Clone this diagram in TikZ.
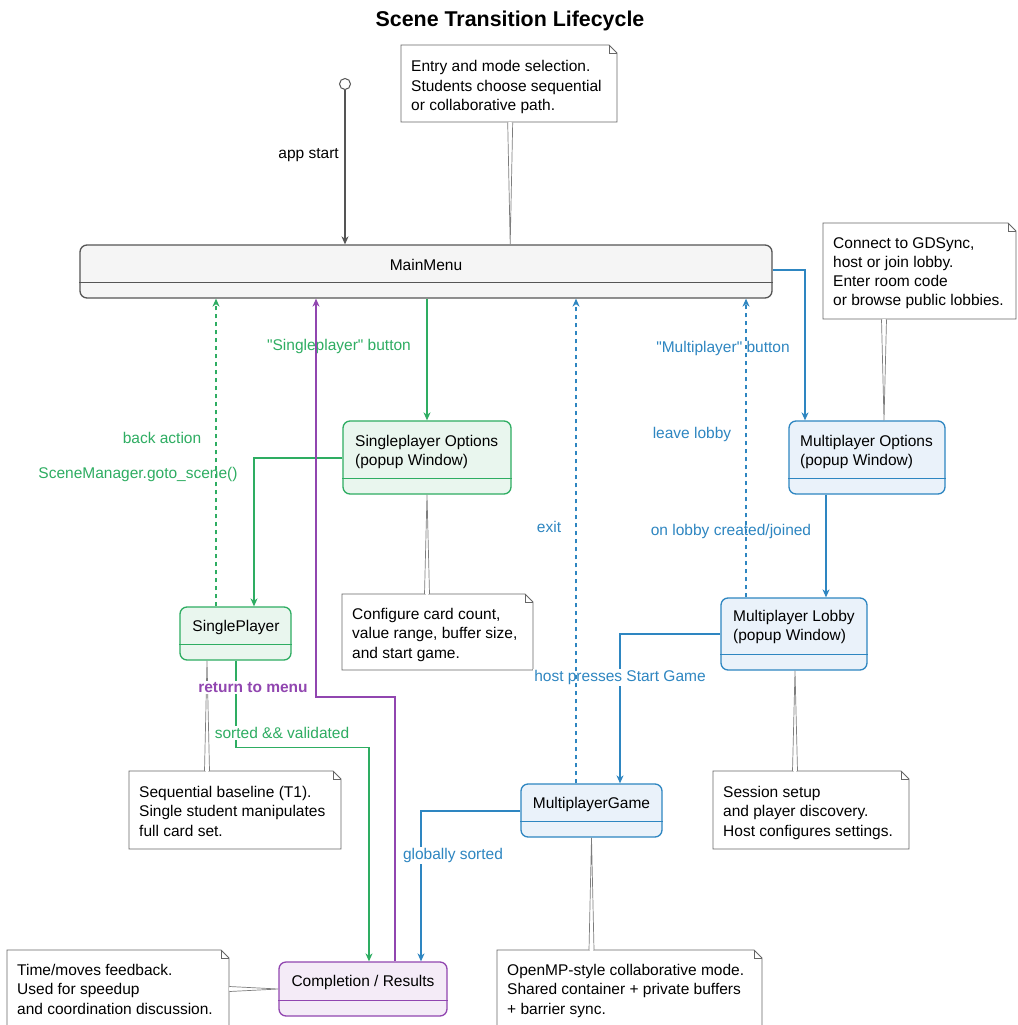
\documentclass[tikz,border=0pt]{standalone}
\usepackage{fontspec}
\setmainfont{Liberation Sans}[Ligatures=TeXOff]
\usetikzlibrary{arrows.meta,calc}

\definecolor{gline}{HTML}{2EAD62}
\definecolor{gfill}{HTML}{E9F6EE}
\definecolor{bline}{HTML}{2E86C1}
\definecolor{bfill}{HTML}{EAF2FA}
\definecolor{pline}{HTML}{9146B0}
\definecolor{pfill}{HTML}{F4EBF7}
\definecolor{mline}{HTML}{555555}
\definecolor{mfill}{HTML}{F5F5F5}
\definecolor{nline}{HTML}{666666}

\tikzset{
  basefont/.style={font=\fontsize{15.5}{19.2}\selectfont},
  stbox/.style={draw, rounded corners=7pt, line width=1.3pt, inner sep=0pt},
  mainbox/.style={stbox, draw=mline, fill=mfill},
  gbox/.style={stbox, draw=gline, fill=gfill},
  bbox/.style={stbox, draw=bline, fill=bfill},
  pbox/.style={stbox, draw=pline, fill=pfill},
  txt/.style={inner sep=0pt, align=left, text=black},
  noteline/.style={draw=nline, line width=0.9pt},
  linkline/.style={draw=nline!85, line width=0.7pt},
  tip/.style={-{Stealth[length=8pt,width=7pt,inset=2.5pt]}},
  edgeline/.style={line width=1.1pt},
  gedge/.style={edgeline, draw=gline, tip},
  bedge/.style={edgeline, draw=bline, tip},
  pedge/.style={edgeline, draw=pline, tip},
  backdash/.style={dash pattern=on 4pt off 4pt},
  glabel/.style={inner sep=1.5pt, text=gline},
  blabel/.style={inner sep=1.5pt, text=bline},
  plabel/.style={inner sep=1.5pt, text=pline, font=\fontsize{15.5}{19.2}\selectfont\bfseries},
}

% note box: name, x1, y1, x2, y2, first baseline, text
\newcommand\notebox[7]{%
  \node[minimum width={#4-#2}, minimum height={#5-#3}, inner sep=0pt, anchor=north west] (#1) at (#2,#3) {};
  \draw[noteline, fill=white] (#2,#3) -- (#4-8,#3) -- (#4,#3+8) -- (#4,#5) -- (#2,#5) -- cycle;
  \draw[noteline] (#4-8,#3) -- (#4-8,#3+8) -- (#4,#3+8);
  \node[txt, anchor=north west] (#1-t) at (#2+10,#6-11.3) {#7};
}
% wedge linking a note to a state: base midpoint, tip, half-width vector
\newcommand\notelink[3]{%
  \fill[white] ($#1+#3$) -- #2 -- ($#1-#3$) -- cycle;
  \draw[white, line width=1.6pt] ($#1+0.5*#3$) -- ($#1-0.5*#3$);
  \draw[linkline] ($#1+#3$) -- #2 -- ($#1-#3$);
}

\begin{document}
\begin{tikzpicture}[x=1pt, y=-1pt, basefont]
\useasboundingbox (0,0) rectangle (1017,1025);
\fill[white] (0,0) rectangle (1017,1025);

% title
\node[inner sep=0pt, anchor=base, font=\fontsize{21.4}{24}\selectfont\bfseries] (title) at (510,26.5) {Scene Transition Lifecycle};

% initial pseudo-state
\node[circle, draw=mline, fill=white, line width=1pt, minimum size=11pt, inner sep=0pt] (start) at (345,84) {};

% states
\node[mainbox, minimum width=692, minimum height=53] (main) at (426,271.5) {};
\draw[draw=mline, line width=1.3pt] ($(main.south west)+(0,-16)$) -- ($(main.south east)+(0,-16)$);
\node[txt, anchor=base] (main-t) at (426,270.5) {MainMenu};

\node[gbox, minimum width=168, minimum height=73] (spopt) at (427,457.5) {};
\draw[draw=gline, line width=1.3pt] ($(spopt.south west)+(0,-16)$) -- ($(spopt.south east)+(0,-16)$);
\node[txt, anchor=north west] (spopt-t) at (355,435.2) {Singleplayer Options\\(popup Window)};

\node[gbox, minimum width=111, minimum height=53] (splay) at (235.5,633.5) {};
\draw[draw=gline, line width=1.3pt] ($(splay.south west)+(0,-16)$) -- ($(splay.south east)+(0,-16)$);
\node[txt, anchor=base] (splay-t) at (236,631.5) {SinglePlayer};

\node[bbox, minimum width=156, minimum height=73] (mpopt) at (867,457.5) {};
\draw[draw=bline, line width=1.3pt] ($(mpopt.south west)+(0,-16)$) -- ($(mpopt.south east)+(0,-16)$);
\node[txt, anchor=north west] (mpopt-t) at (800,435.2) {Multiplayer Options\\(popup Window)};

\node[bbox, minimum width=146, minimum height=72] (lobby) at (794,634) {};
\draw[draw=bline, line width=1.3pt] ($(lobby.south west)+(0,-16)$) -- ($(lobby.south east)+(0,-16)$);
\node[txt, anchor=north west] (lobby-t) at (733,610.2) {Multiplayer Lobby\\(popup Window)};

\node[bbox, minimum width=141, minimum height=53] (mpgame) at (591.5,810.5) {};
\draw[draw=bline, line width=1.3pt] ($(mpgame.south west)+(0,-16)$) -- ($(mpgame.south east)+(0,-16)$);
\node[txt, anchor=base] (mpgame-t) at (591.5,808.5) {MultiplayerGame};

\node[pbox, minimum width=168, minimum height=54] (result) at (363,989) {};
\draw[draw=pline, line width=1.3pt] ($(result.south west)+(0,-16)$) -- ($(result.south east)+(0,-16)$);
\node[txt, anchor=base] (result-t) at (363,986.5) {Completion / Results};

% notes
\notebox{n1}{401}{45}{617}{122}{71.7}{Entry and mode selection.\\Students choose sequential\\or collaborative path.}
\notebox{n2}{823}{223}{1016}{319}{248.5}{Connect to GDSync,\\host or join lobby.\\Enter room code\\or browse public lobbies.}
\notebox{n3}{342}{594}{533}{670}{619.5}{Configure card count,\\value range, buffer size,\\and start game.}
\notebox{n4}{129}{771}{341}{849}{797.5}{Sequential baseline (T1).\\Single student manipulates\\full card set.}
\notebox{n5}{713}{771}{909}{849}{797.5}{Session setup\\and player discovery.\\Host configures settings.}
\notebox{n6}{497}{950}{762}{1032}{975.5}{OpenMP-style collaborative mode.\\Shared container + private buffers\\+ barrier sync.}
\notebox{n7}{7}{950}{229}{1032}{975.5}{Time/moves feedback.\\Used for speedup\\and coordination discussion.}

% note links
\coordinate (w1) at ($(n1.south)+(1,0)$);
\notelink{(w1)}{(w1 |- main.north)}{(2.5,0)}
\coordinate (w2) at ($(mpopt.north)+(17,0)$);
\notelink{(w2 |- n2.south)}{(w2)}{(2.5,0)}
\notelink{(spopt.south |- n3.north)}{(spopt.south)}{(2.5,0)}
\coordinate (w4) at ($(splay.south)+(-28.5,0)$);
\notelink{(w4 |- n4.north)}{(w4)}{(2.5,0)}
\coordinate (w5) at ($(lobby.south)+(1,0)$);
\notelink{(w5 |- n5.north)}{(w5)}{(2.5,0)}
\notelink{(mpgame.south |- n6.north)}{(mpgame.south)}{(2.5,0)}
\notelink{(n7.east |- result.west)}{(result.west)}{(0,2.5)}

% transitions
\draw[edgeline, draw=mline, tip] (start) -- (start |- main.north);
\node[inner sep=0pt, anchor=base east] (l-start) at (339,158.5) {app start};

\draw[gedge] (main.south -| spopt.north) -- (spopt.north);
\node[glabel, anchor=base] (l-sp) at (339,350.5) {"Singleplayer" button};

\coordinate (e3) at ($(mpopt.north)+(-62,0)$);
\draw[bedge] (main.east |- 0,270) -| (e3);
\node[blabel, anchor=base] (l-mp) at (723,352.5) {"Multiplayer" button};

\coordinate (e4) at ($(splay.north)+(18.5,0)$);
\draw[gedge] ($(spopt.west)+(0,0.5)$) -| (e4);
\node[glabel, anchor=base] (l-goto) at (138,478.5) {SceneManager.goto\_scene()};

\coordinate (e5) at ($(splay.north)+(-19.5,0)$);
\draw[gedge, backdash] (e5) -- (e5 |- main.south);
\node[glabel, anchor=base] (l-back) at (162,443.5) {back action};

\coordinate (e6) at ($(result.north)+(6,0)$);
\draw[gedge] ($(splay.south)+(0.5,0)$) |- ($(e6)+(0,-214)$) -- (e6);
\node[glabel, anchor=base, fill=white] (l-sorted) at (282,738.5) {sorted \&\& validated};

\coordinate (e7) at (316,697);
\draw[pedge] ($(result.north)+(32,0)$) |- (e7) -- (e7 |- main.south);
\node[plabel, anchor=base, fill=white] (l-ret) at (253,692.5) {return to menu};

\coordinate (e8) at ($(mpopt.south)+(-41,0)$);
\draw[bedge] (e8) -- (e8 |- lobby.north);
\node[blabel, anchor=base] (l-created) at (731,535.5) {on lobby created/joined};

\coordinate (e9) at ($(lobby.north)+(-48,0)$);
\draw[bedge, backdash] (e9) -- (e9 |- main.south);
\node[blabel, anchor=base] (l-leave) at (692,438.5) {leave lobby};

\draw[bedge] (lobby.west) -| ($(mpgame.north)+(28.5,0)$);
\node[blabel, anchor=base, fill=white] (l-host) at (620,681.5) {host presses Start Game};

\coordinate (e11) at ($(mpgame.north)+(-15.5,0)$);
\draw[bedge, backdash] (e11) -- (e11 |- main.south);
\node[blabel, anchor=base] (l-exit) at (549,532.5) {exit};

\draw[bedge] ($(mpgame.west)+(0,0.5)$) -| ($(result.north)+(58,0)$);
\node[blabel, anchor=base, fill=white] (l-glob) at (453,859.5) {globally sorted};
\end{tikzpicture}
\end{document}
